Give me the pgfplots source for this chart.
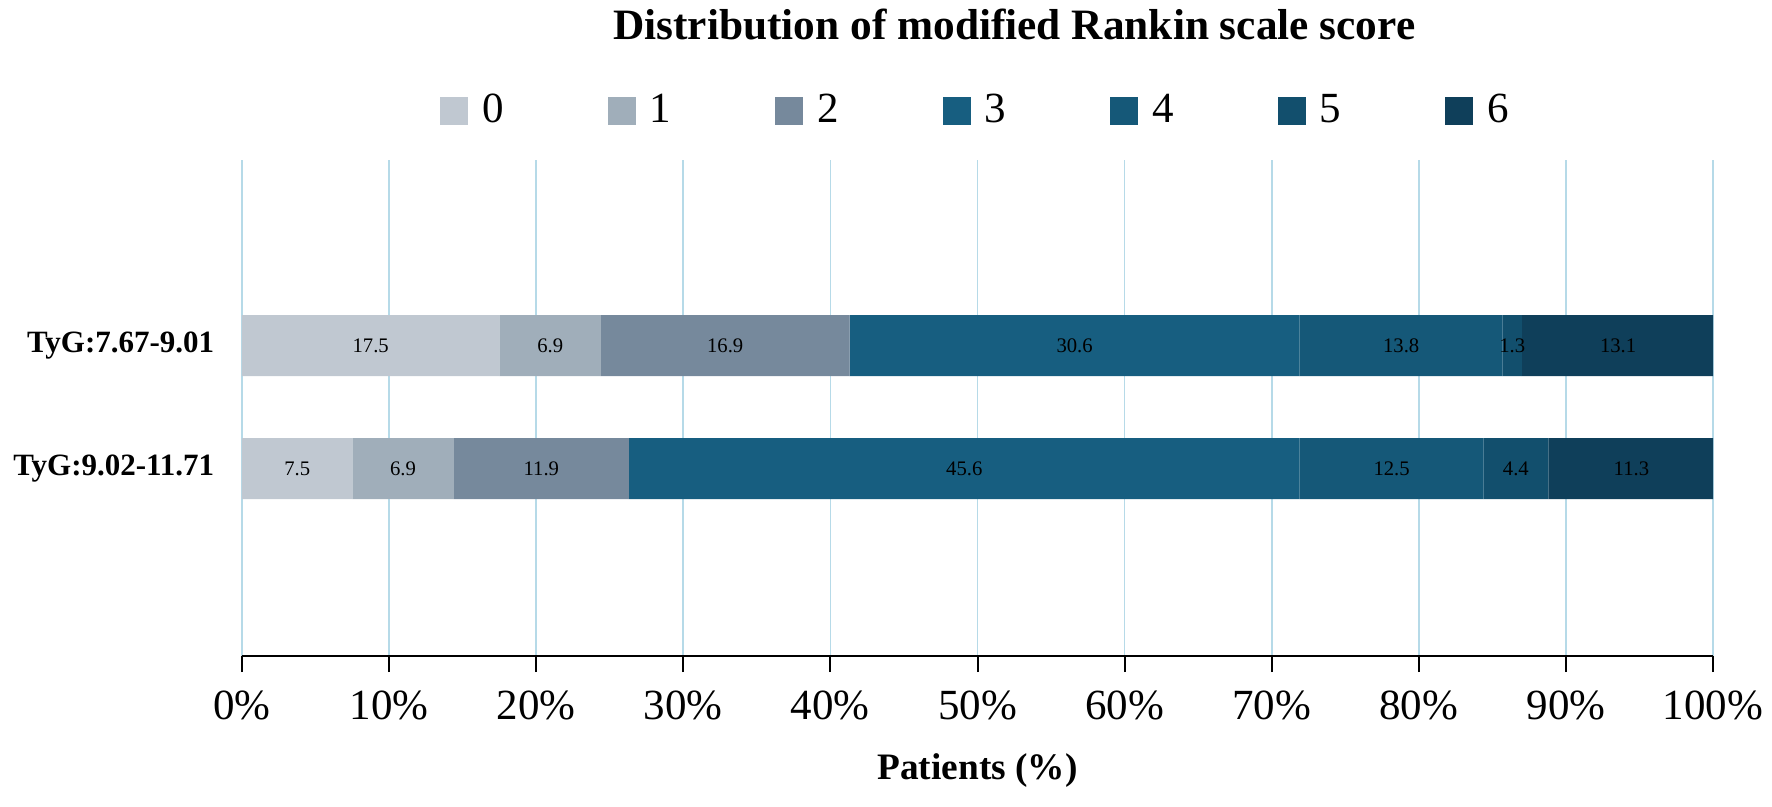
\documentclass[border=0pt]{standalone}
\usepackage{pgfplots}
\usepackage{pgfplotstable}
\pgfplotsset{compat=1.18}
\usepackage{fontspec}
\setmainfont{Liberation Serif}

\definecolor{c0}{HTML}{C0C8D1}
\definecolor{c1}{HTML}{A0AEBA}
\definecolor{c2}{HTML}{76899C}
\definecolor{c3}{HTML}{175E80}
\definecolor{c4}{HTML}{155878}
\definecolor{c5}{HTML}{124F6D}
\definecolor{c6}{HTML}{0F3F5A}
\definecolor{gridc}{HTML}{B6DAE8}

\pgfplotstableread{
y c0 c1 c2 c3 c4 c5 c6
1 17.5 6.9 16.9 30.6 13.8 1.3 13.1
0 7.5 6.9 11.9 45.6 12.5 4.4 11.3
}\datatable

\pgfplotstableread{
x y lab
8.75 1 17.5
20.95 1 6.9
32.85 1 16.9
56.6 1 30.6
78.8 1 13.8
86.35 1 1.3
93.55 1 13.1
3.75 0 7.5
10.95 0 6.9
20.35 0 11.9
49.1 0 45.6
78.15 0 12.5
86.6 0 4.4
94.45 0 11.3
}\labtable

\pgfplotsset{
  myaxis/.style={scale only axis, width=441.3pt, height=148.8pt,
    xmin=0, xmax=100, ymin=-1.524, ymax=2.508, at={(0,0)}, anchor=south west},
  sq/.style={legend image code/.code={%
      \fill[##1] (0pt,-4.2pt) rectangle (8.4pt,4.2pt);}}
}

\begin{document}
\begin{tikzpicture}
\useasboundingbox (-72.6pt,-45pt) rectangle (459pt,196.8pt);
\begin{axis}[myaxis,
  xbar stacked, bar width=18.3pt,
  xtick={0,10,...,100}, ytick={0,1},
  yticklabels={TyG:9.02-11.71, TyG:7.67-9.01},
  /pgf/number format/assume math mode=true,
  xticklabel={\pgfmathprintnumber{\tick}\%},
  xmajorgrids, major grid style={color=gridc, line width=0.5pt},
  axis x line*=bottom, axis y line*=left,
  y axis line style={draw=none}, ytick style={draw=none},
  x axis line style={line width=0.6pt, black, -},
  xtick style={line width=0.6pt, black},
  tick align=outside, major tick length=4.8pt,
  xticklabel style={font=\fontsize{12.9}{14}\selectfont, yshift=-2.1pt},
  yticklabel style={font=\bfseries\fontsize{9.3}{11}\selectfont},
  xlabel={Patients (\%)},
  xlabel style={at={(0.5,0)}, anchor=center, yshift=-34.5pt, font=\bfseries\fontsize{11.2}{13}\selectfont},
  title={Distribution of modified Rankin scale score},
  title style={at={(0.525,1)}, anchor=center, yshift=34.5pt, font=\bfseries\fontsize{13}{15}\selectfont},
  legend columns=7,
  legend style={at={(0.498,1)}, anchor=center, yshift=14.85pt, draw=none, fill=none,
    font=\fontsize{12.9}{15}\selectfont,
    nodes={inner xsep=0pt},
    /tikz/every odd column/.append style={column sep=4.2pt},
    /tikz/every even column/.append style={column sep=31.2pt}},
]
\addplot[fill=c0, draw=none, sq] table[x=c0, y=y] \datatable;
\addplot[fill=c1, draw=none, sq] table[x=c1, y=y] \datatable;
\addplot[fill=c2, draw=none, sq] table[x=c2, y=y] \datatable;
\addplot[fill=c3, draw=none, sq] table[x=c3, y=y] \datatable;
\addplot[fill=c4, draw=none, sq] table[x=c4, y=y] \datatable;
\addplot[fill=c5, draw=none, sq] table[x=c5, y=y] \datatable;
\addplot[fill=c6, draw=none, sq] table[x=c6, y=y] \datatable;
\legend{0,1,2,3,4,5,6}
\end{axis}
\begin{axis}[myaxis, hide axis]
\addplot[draw=none, mark=none, nodes near coords, point meta=explicit symbolic,
  nodes near coords style={anchor=center, font=\fontsize{6.2}{7}\selectfont, text=black}]
  table[x=x, y=y, meta=lab] \labtable;
\end{axis}
\end{tikzpicture}
\end{document}
